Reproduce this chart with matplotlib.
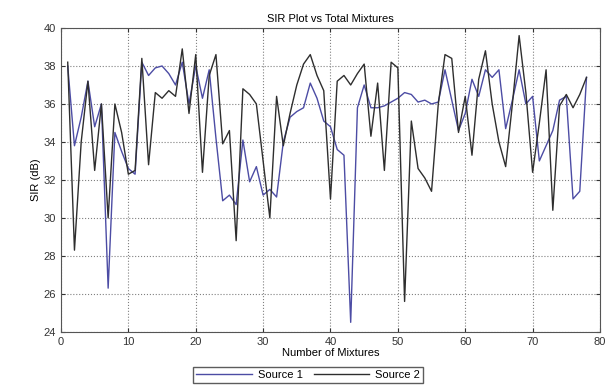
import numpy as np
import matplotlib
matplotlib.use("Agg")
import matplotlib.pyplot as plt

plt.rcParams['font.family'] = ['Liberation Sans', 'DejaVu Sans']

mixtures = np.arange(1, 79)

source1 = [38.0, 33.8, 35.3, 37.2, 34.8, 36.0, 26.3, 34.5, 33.5, 32.6,
           32.3, 38.2, 37.5, 37.9, 38.0, 37.6, 37.0, 38.2, 36.0, 38.0,
           36.3, 37.8, 34.2, 30.9, 31.2, 30.7, 34.1, 31.9, 32.7, 31.2,
           31.5, 31.1, 34.0, 35.3, 35.6, 35.8, 37.1, 36.3, 35.1, 34.8,
           33.6, 33.3, 24.5, 35.8, 37.0, 35.8, 35.8, 35.9, 36.1, 36.3,
           36.6, 36.5, 36.1, 36.2, 36.0, 36.1, 37.8, 36.2, 34.6, 35.5,
           37.3, 36.4, 37.8, 37.4, 37.8, 34.7, 36.2, 37.8, 36.0, 36.4,
           33.0, 33.8, 34.6, 36.2, 36.4, 31.0, 31.4, 37.4]

source2 = [38.2, 28.3, 34.0, 37.2, 32.5, 36.0, 30.0, 36.0, 34.5, 32.3,
           32.5, 38.4, 32.8, 36.6, 36.3, 36.7, 36.4, 38.9, 35.5, 38.6,
           32.4, 37.5, 38.6, 33.9, 34.6, 28.8, 36.8, 36.5, 36.0, 33.0,
           30.0, 36.4, 33.8, 35.5, 37.0, 38.1, 38.6, 37.5, 36.7, 31.0,
           37.2, 37.5, 37.0, 37.6, 38.1, 34.3, 37.1, 32.5, 38.2, 37.9,
           25.6, 35.1, 32.6, 32.1, 31.4, 36.0, 38.6, 38.4, 34.5, 36.4,
           33.3, 37.3, 38.8, 36.0, 34.0, 32.7, 36.0, 39.6, 36.6, 32.4,
           35.0, 37.8, 30.4, 35.9, 36.5, 35.8, 36.5, 37.4]

fig = plt.figure(figsize=(6.16, 3.89), dpi=100)
ax = fig.add_axes([0.099, 0.147, 0.875, 0.781])

ax.plot(mixtures, source1, color='#4c4ca4', lw=1.0, label='Source 1')
ax.plot(mixtures, source2, color='#2e2e2e', lw=1.0, label='Source 2')

ax.set_xlim(0, 80)
ax.set_ylim(24, 40)
ax.set_xticks(np.arange(0, 81, 10))
ax.set_yticks(np.arange(24, 41, 2))
ax.tick_params(direction='in', labelsize=8, length=3, top=True, right=True,
               colors='#333333')
ax.grid(True, linestyle=':', color='#808080', lw=0.8)
for s in ax.spines.values():
    s.set_color('#555555')

ax.set_title('SIR Plot vs Total Mixtures', fontsize=8, pad=4)
ax.set_xlabel('Number of Mixtures', fontsize=8, labelpad=1)
ax.set_ylabel('SIR (dB)', fontsize=8, labelpad=2)

fig.legend(loc='lower center', bbox_to_anchor=(0.5, 0.0), ncol=2,
           fontsize=8, frameon=True, fancybox=False, edgecolor='#333333',
           handlelength=5.0, borderpad=0.3, columnspacing=1.0,
           handletextpad=0.5)

fig.savefig('out.png', dpi=100)
